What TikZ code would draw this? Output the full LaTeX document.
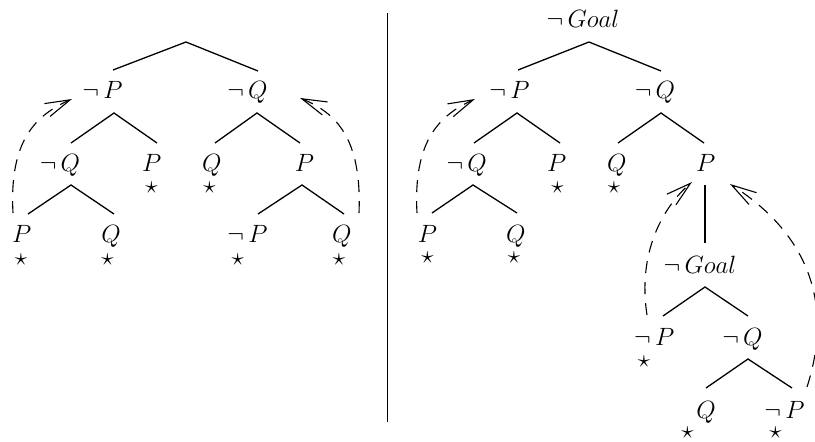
\documentclass[tikz,border=0pt]{standalone}
\usepackage{fix-cm}
\usetikzlibrary{arrows.meta}
\tikzset{
  lab/.style={inner sep=0pt, anchor=base, font=\fontsize{25}{30}\selectfont},
  starlab/.style={inner sep=0pt, anchor=base, font=\fontsize{25}{30}\selectfont},
  edge/.style={line width=1.3pt},
  divider/.style={line width=1.5pt},
  back/.style={line width=1.1pt, dash pattern=on 12pt off 9pt,
    -{Straight Barb[length=25pt,width=14pt,line width=1.1pt]}},
}
\begin{document}
\begin{tikzpicture}[x=1pt,y=-1pt]
\useasboundingbox (0,0) rectangle (815,442);

% ---------------- left tree ----------------
\node[lab] (L-np)   at (102.5,98) {$\neg\,P$};
\node[lab] (L-nq)   at (247.5,98) {$\neg\,Q$};
\node[lab] (L-nq2)  at (60,171)   {$\neg\,Q$};
\node[lab] (L-p2)   at (151.7,171) {$P$};
\node[lab] (L-q2)   at (211.7,171) {$Q$};
\node[lab] (L-p2r)  at (304.5,171) {$P$};
\node[lab] (L-p3)   at (21.7,242) {$P$};
\node[lab] (L-q3)   at (111,242)  {$Q$};
\node[lab] (L-np3)  at (247.5,242) {$\neg\,P$};
\node[lab] (L-q3r)  at (341.7,242) {$Q$};
\node[starlab] (L-s1) at (151.5,193) {$\star$};
\node[starlab] (L-s2) at (209.5,193) {$\star$};
\node[starlab] (L-s3) at (21,265)   {$\star$};
\node[starlab] (L-s4) at (107.5,265) {$\star$};
\node[starlab] (L-s5) at (237.7,265) {$\star$};
\node[starlab] (L-s6) at (339,265)   {$\star$};

\coordinate (L-root)  at (186,42);
\coordinate (L-np-t)  at (113,70);
\coordinate (L-nq-t)  at (258,71);
\coordinate (L-np-b)  at (114,113);
\coordinate (L-nq2-t) at (71,143);
\coordinate (L-p2-t)  at (157,143);
\coordinate (L-nq-b)  at (257,113);
\coordinate (L-q2-t)  at (215,143);
\coordinate (L-p2r-t) at (300,143);
\coordinate (L-nq2-b) at (71,185);
\coordinate (L-p3-t)  at (28,214);
\coordinate (L-q3-t)  at (114,214);
\coordinate (L-p2r-b) at (302,185);
\coordinate (L-np3-t) at (258,214);
\coordinate (L-q3r-t) at (344,214);

\draw[edge] (L-np-t) -- (L-root) -- (L-nq-t);
\draw[edge] (L-nq2-t) -- (L-np-b) -- (L-p2-t);
\draw[edge] (L-q2-t) -- (L-nq-b) -- (L-p2r-t);
\draw[edge] (L-p3-t) -- (L-nq2-b) -- (L-q3-t);
\draw[edge] (L-np3-t) -- (L-p2r-b) -- (L-q3r-t);

\coordinate (L-p3-a)  at (13,213);
\coordinate (L-np-a)  at (72,99);
\coordinate (L-q3r-a) at (359,213);
\coordinate (L-nq-a)  at (300,98);
\draw[back] (L-p3-a) .. controls (9,140) and (36,115) .. (L-np-a);
\draw[back] (L-q3r-a) .. controls (362,138) and (336,113) .. (L-nq-a);

% ---------------- divider ----------------
\coordinate (D-top) at (387.7,13);
\coordinate (D-bot) at (387.7,422);
\draw[divider] (D-top) -- (D-bot);

% ---------------- right tree ----------------
\node[lab] (R-goal)  at (583,27)   {$\neg\,Goal$};
\node[lab] (R-np)    at (509.5,98) {$\neg\,P$};
\node[lab] (R-nq)    at (655,98)   {$\neg\,Q$};
\node[lab] (R-nq2)   at (466.7,171) {$\neg\,Q$};
\node[lab] (R-p2)    at (556.7,171) {$P$};
\node[lab] (R-q2)    at (616.7,171) {$Q$};
\node[lab] (R-p2r)   at (705.8,171) {$P$};
\node[lab] (R-p3)    at (427.5,242) {$P$};
\node[lab] (R-q3)    at (515.8,242) {$Q$};
\node[lab] (R-goal2) at (700,273)  {$\neg\,Goal$};
\node[lab] (R-np4)   at (654.2,345) {$\neg\,P$};
\node[lab] (R-nq4)   at (742.5,345) {$\neg\,Q$};
\node[lab] (R-q5)    at (706,418)  {$Q$};
\node[lab] (R-np5)   at (784.5,418) {$\neg\,P$};
\node[starlab] (R-s1) at (557.5,193) {$\star$};
\node[starlab] (R-s2) at (614,193)   {$\star$};
\node[starlab] (R-s3) at (427.5,263) {$\star$};
\node[starlab] (R-s4) at (514,263)   {$\star$};
\node[starlab] (R-s5) at (644,367)   {$\star$};
\node[starlab] (R-s6) at (687.5,438) {$\star$};
\node[starlab] (R-s7) at (775.5,438) {$\star$};

\coordinate (R-goal-b)  at (589,42);
\coordinate (R-np-t)    at (518,70);
\coordinate (R-nq-t)    at (661,71);
\coordinate (R-np-b)    at (517,113);
\coordinate (R-nq2-t)   at (474,143);
\coordinate (R-p2-t)    at (560,143);
\coordinate (R-nq-b)    at (661,113);
\coordinate (R-q2-t)    at (618,143);
\coordinate (R-p2r-t)   at (704,143);
\coordinate (R-nq2-b)   at (473,185);
\coordinate (R-p3-t)    at (432,213);
\coordinate (R-q3-t)    at (517,213);
\coordinate (R-p2r-b)   at (705,185);
\coordinate (R-goal2-t) at (705,243);
\coordinate (R-goal2-b) at (705,287);
\coordinate (R-np4-t)   at (663,316);
\coordinate (R-nq4-t)   at (748,316);
\coordinate (R-nq4-b)   at (748,359);
\coordinate (R-q5-t)    at (706,388);
\coordinate (R-np5-t)   at (792,388);

\draw[edge] (R-np-t) -- (R-goal-b) -- (R-nq-t);
\draw[edge] (R-nq2-t) -- (R-np-b) -- (R-p2-t);
\draw[edge] (R-q2-t) -- (R-nq-b) -- (R-p2r-t);
\draw[edge] (R-p3-t) -- (R-nq2-b) -- (R-q3-t);
\draw[edge] (R-p2r-b) -- (R-goal2-t);
\draw[edge] (R-np4-t) -- (R-goal2-b) -- (R-nq4-t);
\draw[edge] (R-q5-t) -- (R-nq4-b) -- (R-np5-t);

\coordinate (R-p3-a)   at (417,213);
\coordinate (R-np-a)   at (475,99);
\coordinate (R-np4-a)  at (647,315);
\coordinate (R-p2r-a1) at (692,182);
\coordinate (R-np5-a)  at (807,387);
\coordinate (R-p2r-a2) at (730,184);
\draw[back] (R-p3-a) .. controls (413,140) and (440,115) .. (R-np-a);
\draw[back] (R-np4-a) .. controls (637,250) and (665,205) .. (R-p2r-a1);
\draw[back] (R-np5-a) .. controls (835,300) and (805,232) .. (R-p2r-a2);
\end{tikzpicture}
\end{document}
